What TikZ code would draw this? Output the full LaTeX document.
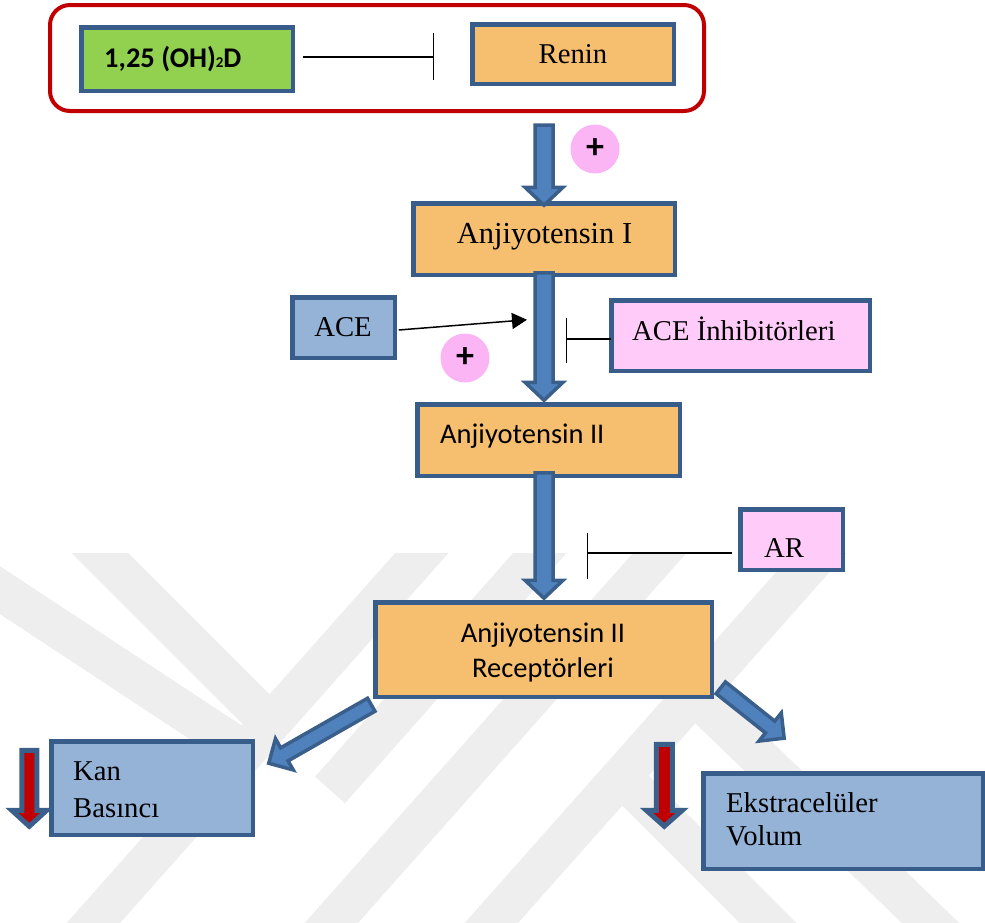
\documentclass[tikz,border=0pt]{standalone}
\usepackage{fontspec}
\setmainfont{Liberation Serif}
\newfontfamily\calibri{Carlito}
\usetikzlibrary{calc,arrows.meta}
\definecolor{bline}{HTML}{385D8A}
\definecolor{afill}{HTML}{4F81BD}
\definecolor{aline}{HTML}{3A5F8B}
\definecolor{orng}{HTML}{F6BF70}
\definecolor{grn}{HTML}{92D050}
\definecolor{lblue}{HTML}{95B3D7}
\definecolor{pnk}{HTML}{FFCCF9}
\definecolor{pcirc}{HTML}{FBB5F4}
\definecolor{dred}{HTML}{C00000}
\definecolor{wm}{HTML}{EEEEEE}
% block arrow: #1 style, #2 start coord name, #3 end coord name, #4 shaft half width, #5 head half width, #6 head length
\newcommand\blkarrow[6]{%
  \path let \p1=(#2), \p2=(#3) in \pgfextra{%
    \pgfmathsetmacro\baX{\x1}\xdef\gbaX{\baX}%
    \pgfmathsetmacro\baY{\y1}\xdef\gbaY{\baY}%
    \pgfmathsetmacro\baA{atan2(\y2-\y1,\x2-\x1)}\xdef\gbaA{\baA}%
    \pgfmathsetmacro\baL{veclen(\x2-\x1,\y2-\y1)}\xdef\gbaL{\baL}};
  \draw[#1, shift={(\gbaX pt,\gbaY pt)}, rotate=\gbaA]
    (0pt,#4pt) -- ({\gbaL pt-#6pt},#4pt) -- ({\gbaL pt-#6pt},#5pt) -- (\gbaL pt,0pt)
    -- ({\gbaL pt-#6pt},-#5pt) -- ({\gbaL pt-#6pt},-#4pt) -- (0pt,-#4pt) -- cycle;
}
\begin{document}
\begin{tikzpicture}[x=1pt,y=-1pt,
  box/.style={draw=bline, line width=4.5pt, rectangle, inner sep=0pt, outer sep=0pt},
  tms/.style={font=\fontsize{28.7}{34}\selectfont, inner sep=0pt},
  cal/.style={font=\calibri\fontsize{28.5}{34}\selectfont, inner sep=0pt},
  calb/.style={font=\calibri\bfseries\fontsize{28.5}{34}\selectfont, inner sep=0pt},
  bigarr/.style={fill=afill, draw=aline, line width=3.5pt, line join=miter},
  redarr/.style={fill=dred, draw=aline, line width=5pt, line join=miter},
  inh/.style={draw=black, line width=1.5pt},
  pluscirc/.style={circle, fill=pcirc, minimum size=49pt, inner sep=0pt,
    font=\calibri\bfseries\fontsize{36}{36}\selectfont}]
\useasboundingbox (0,0) rectangle (985,922);
\clip (0,0) rectangle (985,922);
% watermark
\begin{scope}
\clip (0,553) rectangle (985,922);
\draw[draw=wm, line width=40pt] (436,537) -- (80,938);
\draw[draw=wm, line width=40pt] (554,537) -- (330,790);
\draw[draw=wm, line width=40pt] (674,537) -- (318,938);
\draw[draw=wm, line width=40pt] (834,537) -- (478,938);
\draw[draw=wm, line width=40pt] (84,537) -- (262,715);
\draw[draw=wm, line width=40pt] (-20,577) -- (235,745);
\draw[draw=wm, line width=40pt] (610,765) -- (790,945);
\draw[draw=wm, line width=40pt] (700,700) -- (946,938);
\end{scope}
% frame
\node[draw=dred, line width=4pt, rounded corners=20pt, minimum width=654pt,
  minimum height=106pt, inner sep=0pt, outer sep=0pt] (frame) at (377,58) {};
% boxes
\node[box, fill=grn, minimum width=211.5pt, minimum height=63.5pt] (green) at (187,59) {};
\node[box, fill=orng, minimum width=201.5pt, minimum height=59.5pt] (renin) at (573,54) {};
\node[box, fill=orng, minimum width=261.5pt, minimum height=71.5pt] (anj1) at (544,239) {};
\node[box, fill=lblue, minimum width=102.5pt, minimum height=60.5pt] (ace) at (343.5,327.5) {};
\node[box, fill=pnk, minimum width=258.5pt, minimum height=70.5pt] (acei) at (740.5,335.5) {};
\node[box, fill=orng, minimum width=262.5pt, minimum height=71.5pt] (anj2) at (548.5,440) {};
\node[box, fill=pnk, minimum width=102.5pt, minimum height=60.5pt] (ar) at (791.5,539.5) {};
\node[box, fill=orng, minimum width=336.5pt, minimum height=94.5pt] (rec) at (543.5,649.5) {};
\node[box, fill=lblue, minimum width=201.5pt, minimum height=93.5pt] (kan) at (152,788) {};
\node[box, fill=lblue, minimum width=279.5pt, minimum height=95.5pt] (eks) at (843,821) {};
% texts
\node[calb, anchor=base west] (tgreen) at (104,67) {1,25 (OH){\fontsize{15}{15}\selectfont 2}D};
\node[tms, anchor=base] (trenin) at (573,63) {Renin};
\node[font=\fontsize{30.5}{36}\selectfont, inner sep=0pt, anchor=base] (tanj1) at (544.5,243) {Anjiyotensin I};
\node[tms, anchor=base] (tace) at (343,336) {ACE};
\node[tms, anchor=base west] (tacei) at (632,340) {ACE İnhibitörleri};
\node[cal, anchor=base west] (tanj2) at (440,443) {Anjiyotensin II};
\node[tms, anchor=base west] (tar) at (764,557) {AR};
\node[cal, anchor=base] (trec1) at (543,642) {Anjiyotensin II};
\node[cal, anchor=base] (trec2) at (543,677) {Receptörleri};
\node[tms, anchor=base west] (tkan1) at (73,780) {Kan};
\node[tms, anchor=base west] (tkan2) at (73,817) {Basıncı};
\node[tms, anchor=base west] (teks1) at (726,812) {Ekstracelüler};
\node[tms, anchor=base west] (teks2) at (726,845) {Volum};
% inhibition connectors
\coordinate (i1s) at ($(green.east)+(10,-2)$);
\coordinate (i1t) at ($(renin.west)+(-39,3)$);
\draw[inh] (i1s) -- (i1t);
\draw[inh] ($(i1t)+(0,-24)$) -- ($(i1t)+(0,23)$);
\coordinate (i2s) at ($(acei.west)+(0,3.5)$);
\coordinate (i2t) at ($(acei.west)+(-45,3.5)$);
\draw[inh] (i2s) -- (i2t);
\draw[inh] ($(i2t)+(0,-21)$) -- ($(i2t)+(0,24)$);
\coordinate (i3s) at ($(ar.west)+(-8,13.5)$);
\coordinate (i3t) at ($(ar.west)+(-153,13.5)$);
\draw[inh] (i3s) -- (i3t);
\draw[inh] ($(i3t)+(0,-20)$) -- ($(i3t)+(0,26)$);
% big arrows
\coordinate (a1s) at ($(anj1.north |- frame.south)+(0,14)$);
\coordinate (a1e) at ($(anj1.north)+(0,2)$);
\blkarrow{bigarr}{a1s}{a1e}{9}{19}{18}
\coordinate (a2s) at ($(anj1.south)+(0,-2)$);
\coordinate (a2e) at ($(anj1.south |- anj2.north)+(0,-4)$);
\blkarrow{bigarr}{a2s}{a2e}{9}{19}{18}
\coordinate (a3s) at ($(anj1.south |- anj2.south)+(0,-3)$);
\coordinate (a3e) at ($(anj1.south |- rec.north)+(0,-4)$);
\blkarrow{bigarr}{a3s}{a3e}{9}{19}{18}
\coordinate (d1s) at ($(rec.south west)+(-4,8)$);
\coordinate (d1e) at ($(kan.north east)+(16,22)$);
\blkarrow{bigarr}{d1s}{d1e}{7.5}{18}{18}
\coordinate (d2s) at ($(rec.south east)+(9,-9)$);
\coordinate (d2e) at ($(eks.north west)+(81,-35)$);
\blkarrow{bigarr}{d2s}{d2e}{7.5}{18}{18}
% red down arrows
\coordinate (r1s) at ($(kan.north west)+(-22,9)$);
\coordinate (r1e) at ($(kan.north west)+(-22,85)$);
\blkarrow{redarr}{r1s}{r1e}{7.5}{17.5}{16}
\coordinate (r2s) at ($(eks.north west)+(-39,-29)$);
\coordinate (r2e) at ($(eks.north west)+(-39,53)$);
\blkarrow{redarr}{r2s}{r2e}{8}{18}{16}
% ACE arrow
\coordinate (acs) at ($(ace.east)+(4,2.5)$);
\coordinate (ace2) at ($(anj1.south)+(-17,45)$);
\draw[line width=1.5pt, -{Triangle[length=15pt,width=16pt]}] (acs) -- (ace2);
% plus circles
\node[pluscirc] (plus1) at (595,149) {+};
\node[pluscirc] (plus2) at (465,358) {+};
\end{tikzpicture}
\end{document}
